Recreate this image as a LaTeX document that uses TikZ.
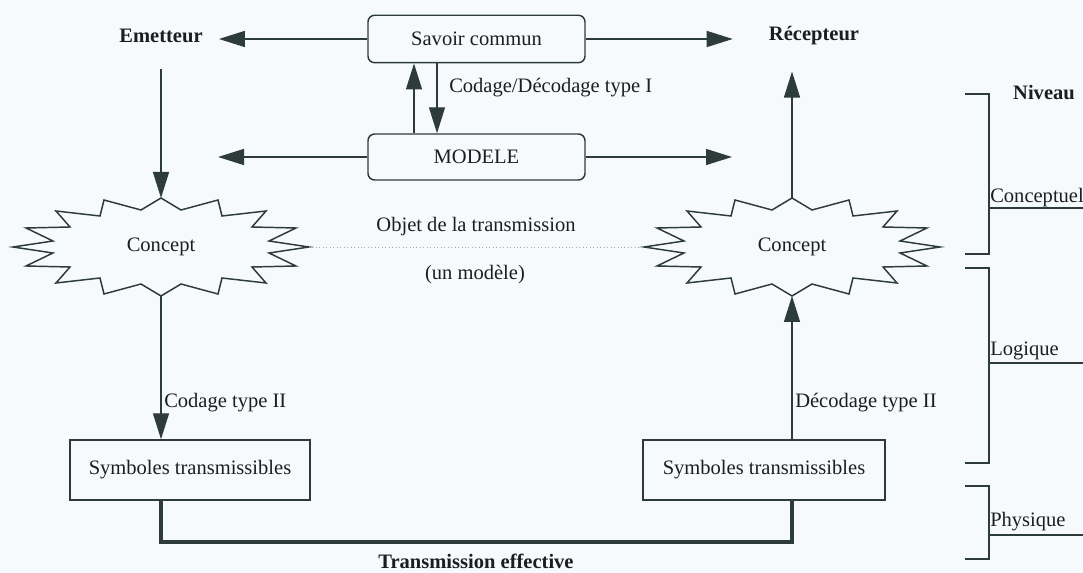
\documentclass[tikz,border=0pt]{standalone}
\usepackage{fontspec}
\setmainfont{Liberation Serif}
\usetikzlibrary{arrows.meta}
\definecolor{ln}{RGB}{45,60,58}
\definecolor{tx}{RGB}{28,30,30}
\definecolor{bg}{RGB}{247,250,252}
\newcommand\myfont{\fontsize{15.4}{18}\selectfont}
\newcommand\drawstar[1]{%
  \draw[starline, shift={#1}] (0,-49) -- (20,-37) -- (57,-47) -- (61,-31) -- (105,-36) -- (91,-20) -- (135,-19) -- (108,-6) -- (148,0) -- (108,6) -- (135,19) -- (91,20) -- (105,36) -- (61,31) -- (57,47) -- (20,37) -- (0,49) -- (-20,37) -- (-57,47) -- (-61,31) -- (-105,36) -- (-91,20) -- (-135,19) -- (-108,6) -- (-148,0) -- (-108,-6) -- (-135,-19) -- (-91,-20) -- (-105,-36) -- (-61,-31) -- (-57,-47) -- (-20,-37) -- cycle;}
\begin{document}
\begin{tikzpicture}[x=0.75pt,y=-0.75pt,
  lbl/.style={font=\myfont, text=tx, inner sep=0pt},
  bld/.style={font=\myfont\bfseries, text=tx, inner sep=0pt},
  box/.style={draw=ln, line width=1.1pt, font=\myfont, text=tx, inner sep=0pt},
  rbox/.style={box, rounded corners=5pt},
  arr/.style={draw=ln, line width=1.1pt, -{Triangle[length=19.5pt,width=12pt]}},
  wire/.style={draw=ln, line width=1.1pt},
  thickwire/.style={draw=ln, line width=2.6pt},
  starline/.style={draw=ln, line width=1.1pt, line join=miter},
  dotline/.style={draw=gray!70, line width=0.6pt, dotted}]
\useasboundingbox[fill=bg] (0,0) rectangle (1083,573);

% top boxes
\node[rbox, minimum width=162.75pt, minimum height=35.6pt] (savoir) at (476.5,39) {Savoir commun};
\node[rbox, minimum width=162.75pt, minimum height=34.5pt] (modele) at (476.5,157) {MODELE};

\node[bld] (emet) at (161,36) {Emetteur};
\node[bld] (recep) at (814,36) {Récepteur};

\coordinate (mL) at (218,157);
\coordinate (mR) at (732,157);

\draw[arr, shorten >=12pt] (savoir.west) -- (savoir.west -| emet.east);
\draw[arr, shorten >=27pt] (savoir.east) -- (savoir.east -| recep.west);
\draw[arr] (modele.west) -- (mL);
\draw[arr] (modele.east) -- (mR);

\draw[arr] (414,0 |- modele.north) -- (414,0 |- savoir.south);
\draw[arr] (437,0 |- savoir.south) -- (437,0 |- modele.north);
\node[lbl, anchor=west] (cdI) at (449,88) {Codage/Décodage type I};

% stars
\drawstar{(161,247)}
\drawstar{(792,247)}
\node[lbl] (cL) at (161,247) {Concept};
\node[lbl] (cR) at (792,247) {Concept};
\coordinate (cLtop) at (161,198);
\coordinate (cLbot) at (161,296);
\coordinate (cLright) at (309,247);
\coordinate (cRtop) at (792,198);
\coordinate (cRbot) at (792,296);
\coordinate (cRleft) at (644,247);

\draw[arr, shorten <=19.5pt] (emet.south -| cLtop) -- (cLtop);
\draw[arr, shorten >=19.5pt] (cRtop) -- (cRtop |- recep.south);

\draw[dotline] (cLright) -- (cRleft);
\node[lbl] (objet) at (476,227) {Objet de la transmission};
\node[lbl] (unmod) at (475,275) {(un modèle)};

% bottom boxes
\node[box, minimum width=180pt, minimum height=45pt] (symL) at (190,470) {Symboles transmissibles};
\node[box, minimum width=181.5pt, minimum height=45pt] (symR) at (764,470) {Symboles transmissibles};

\draw[arr] (cLbot) -- (cLbot |- symL.north);
\node[lbl, anchor=west] (cdII) at (164,403) {Codage type II};
\draw[arr] (cRbot |- symR.north) -- (cRbot);
\node[lbl, anchor=west] (dcII) at (795,403) {Décodage type II};

\draw[thickwire] (cLbot |- symL.south) -- (161,542) -- (792,542) -- (cRbot |- symR.south);
\node[bld] (trans) at (476,561) {Transmission effective};

% levels
\node[bld] (niveau) at (1044,93) {Niveau};
\draw[wire] (965,94) -- (989,94) -- (989,254) -- (965,254);
\draw[wire] (989,208) -- (1083,208);
\node[lbl, anchor=base west] (concl) at (990,203) {Conceptuel};
\draw[wire] (965,268) -- (989,268) -- (989,463) -- (965,463);
\draw[wire] (989,363) -- (1083,363);
\node[lbl, anchor=base west] (logl) at (990,356) {Logique};
\draw[wire] (965,486) -- (989,486) -- (989,559) -- (965,559);
\draw[wire] (989,535) -- (1083,535);
\node[lbl, anchor=base west] (phyl) at (990,527) {Physique};
\end{tikzpicture}
\end{document}
